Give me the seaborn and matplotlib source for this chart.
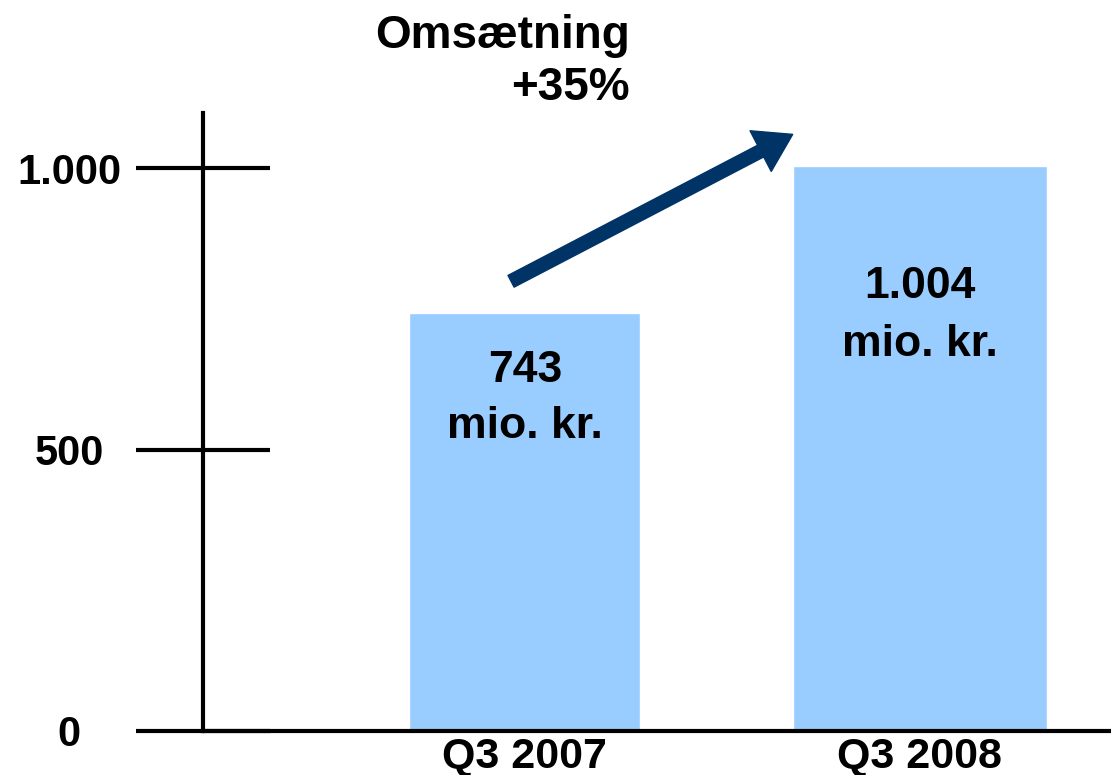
import matplotlib
matplotlib.use("Agg")
import matplotlib.pyplot as plt
import seaborn as sns
import pandas as pd

categories = ["Q3 2007", "Q3 2008"]
values = [743, 1004]
label_values = ["743", "1.004"]
label_units = ["mio. kr.", "mio. kr."]
yticks = [0, 500, 1000]
ytick_labels = ["0", "500", "1.000"]
title_line1 = "Omsætning"
title_line2 = "+35%"

# annotation positions (data units)
value_baseline = [620, 769]
unit_baseline = [520, 666]
arrow_start = (-0.035, 799)
arrow_end = (0.678, 1060)

sns.set_style("white")
plt.rcParams["font.family"] = ["Liberation Sans", "DejaVu Sans"]
plt.rcParams["font.weight"] = "bold"
plt.rcParams["text.color"] = "black"
plt.rcParams["xtick.color"] = "black"
plt.rcParams["ytick.color"] = "black"

fig = plt.figure(figsize=(11.11, 7.75), dpi=100)
ax = fig.add_axes([203 / 1111, 1 - 731 / 775, (1111 - 203) / 1111, (731 - 113) / 775])

df = pd.DataFrame({"cat": categories, "val": values})
sns.barplot(data=df, x="cat", y="val", ax=ax, color="#99CCFF", saturation=1, width=0.61)

# slight width difference between bars as in the reference
widths = [0.585, 0.643]
for p, w in zip(ax.patches, widths):
    c = p.get_x() + p.get_width() / 2
    p.set_width(w)
    p.set_x(c - w / 2)

ax.set_xlim(-0.815, 1.484)
ax.set_ylim(0, 1098)
ax.set_xlabel("")
ax.set_ylabel("")

for s in ["top", "right"]:
    ax.spines[s].set_visible(False)
for s in ["left", "bottom"]:
    ax.spines[s].set_linewidth(3)
    ax.spines[s].set_color("black")

ax.set_yticks(yticks)
ax.set_yticklabels(ytick_labels, fontsize=30, fontweight="bold", color="black")
ax.tick_params(axis="y", direction="inout", length=97, width=3, pad=48, color="black", left=True)
for t in ax.get_yticklabels():
    t.set_horizontalalignment("center")
ax.tick_params(axis="x", length=0, pad=4, labelsize=31, labelcolor="black")
for t in ax.get_xticklabels():
    t.set_fontweight("bold")

for i in range(len(categories)):
    ax.text(i, value_baseline[i], label_values[i], ha="center", va="baseline",
            fontsize=32, fontweight="bold", color="black")
    ax.text(i, unit_baseline[i], label_units[i], ha="center", va="baseline",
            fontsize=32, fontweight="bold", color="black")

ax.annotate("", xy=arrow_end, xytext=arrow_start, xycoords="data", textcoords="data",
            arrowprops=dict(arrowstyle="simple,head_length=2.6,head_width=3.3,tail_width=0.95",
                            mutation_scale=10, color="#003366", shrinkA=0, shrinkB=0),
            annotation_clip=False)

fig.text(630 / 1111, 1 - 48 / 775, title_line1, ha="right", va="baseline", fontsize=33,
         fontweight="bold", color="black")
fig.text(630 / 1111, 1 - 100 / 775, title_line2, ha="right", va="baseline", fontsize=33,
         fontweight="bold", color="black")

fig.savefig("out.png", dpi=100)
